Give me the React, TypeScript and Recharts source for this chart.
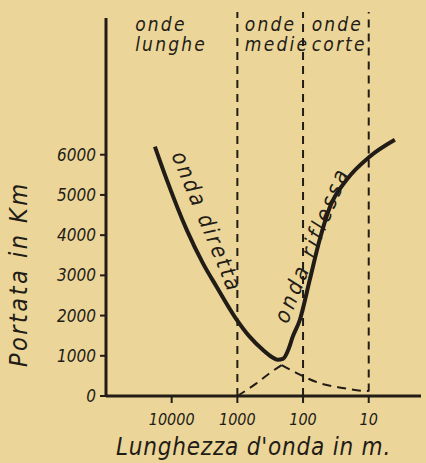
import React from 'react';
import { LineChart, Line, XAxis, YAxis, ReferenceLine, ReferenceDot } from 'recharts';

// Wavelength (m) → range (km); solid envelope (onda diretta + onda riflessa)
const portataSolid = [
  { l: 18000, v: 6200 },
  { l: 11900, v: 5380 },
  { l: 5900, v: 4130 },
  { l: 3370, v: 3310 },
  { l: 2060, v: 2710 },
  { l: 1096, v: 1970 },
  { l: 646, v: 1470 },
  { l: 410, v: 1150 },
  { l: 299, v: 970 },
  { l: 243, v: 900 },
  { l: 200, v: 930 },
  { l: 165, v: 1180 },
  { l: 144, v: 1470 },
  { l: 112, v: 1890 },
  { l: 79, v: 2890 },
  { l: 56, v: 3880 },
  { l: 39, v: 4700 },
  { l: 21.6, v: 5380 },
  { l: 9.7, v: 5950 },
  { l: 4.0, v: 6370 },
];
const direttaDashed = [
  { l: 211, v: 770 },
  { l: 125, v: 570 },
  { l: 56, v: 320 },
  { l: 25, v: 200 },
  { l: 10.7, v: 125 },
  { l: 10, v: 125 },
];
const riflessaDashed = [
  { l: 1000, v: 0 },
  { l: 507, v: 320 },
  { l: 321, v: 570 },
  { l: 211, v: 770 },
];

const xTicks = [10000, 1000, 100, 10];
const yTicks = [0, 1000, 2000, 3000, 4000, 5000, 6000];
const bandBounds = [1000, 100, 10];
const bandBoundBottoms = [0, 0, 110];
const bandTop = 9550;
const bandLabelTop = ['onde', 'onde', 'onde'];
const bandLabelBottom = ['lunghe', 'medie', 'corte'];
const bandLabelX = [36000, 770, 74];
const bandLabelY = 9080;
const curveLabels = ['onda diretta', 'onda riflessa'];
const curveLabelX = [2900, 74];
const curveLabelY = [4330, 3760];
const curveLabelAngle = [67.5, -68];
const curveLabelSpacing = [2.4, 3];

const INK = '#221c17';
const FONT = "'DejaVu Sans Condensed', 'DejaVu Sans', sans-serif";

const rotatedLabel = (text: string, angle: number, size: number, spacing: number) => (props: any) => {
  const vb = props.viewBox || {};
  const x = (vb.x ?? 0) + (vb.width ?? 0) / 2;
  const y = (vb.y ?? 0) + (vb.height ?? 0) / 2;
  return (
    <text
      x={x}
      y={y}
      transform={`rotate(${angle} ${x} ${y})`}
      textAnchor="middle"
      dominantBaseline="central"
      fontFamily={FONT}
      fontStyle="italic"
      fontSize={size}
      fill={INK}
      letterSpacing={spacing}
    >
      {text}
    </text>
  );
};

const headerLabel = (top: string, bottom: string) => (props: any) => {
  const vb = props.viewBox || {};
  const x = (vb.x ?? 0) + (vb.width ?? 0) / 2;
  const y = (vb.y ?? 0) + (vb.height ?? 0) / 2;
  return (
    <text x={x} y={y} fontFamily={FONT} fontStyle="italic" fontSize={19} fill={INK} letterSpacing={2.2}>
      <tspan x={x} y={y}>{top}</tspan>
      <tspan x={x} y={y + 20}>{bottom}</tspan>
    </text>
  );
};

const fmtX = (v: number) => String(v);

export default function App() {
  return (
    <div style={{ position: 'absolute', left: 0, top: 0, width: 426, height: 463, background: '#ecd598' }}>
      <LineChart width={426} height={463} margin={{ top: 18, right: 5, left: 0, bottom: 0 }}>
        <XAxis
          type="number"
          dataKey="l"
          scale="log"
          domain={[1.6, 100000]}
          reversed
          ticks={xTicks}
          tickFormatter={fmtX}
          allowDataOverflow
          height={67}
          tickSize={7}
          tickMargin={11}
          axisLine={{ stroke: INK, strokeWidth: 3 }}
          tickLine={{ stroke: INK, strokeWidth: 2 }}
          tick={{ fill: INK, fontSize: 16, fontStyle: 'italic', fontFamily: FONT }}
          label={{
            value: "Lunghezza d'onda in m.",
            position: 'insideBottom',
            offset: 8,
            dx: -10,
            fill: INK,
            fontSize: 24,
            fontStyle: 'italic',
            fontFamily: FONT,
            letterSpacing: 0.8,
          }}
        />
        <YAxis
          type="number"
          dataKey="v"
          domain={[0, 9400]}
          ticks={yTicks}
          width={106}
          tickSize={6}
          tickMargin={4}
          axisLine={{ stroke: INK, strokeWidth: 3 }}
          tickLine={{ stroke: INK, strokeWidth: 2 }}
          tick={{ fill: INK, fontSize: 17, fontStyle: 'italic', fontFamily: FONT }}
          label={{
            value: 'Portata in Km',
            angle: -90,
            position: 'insideLeft',
            offset: 18,
            dy: 160,
            fill: INK,
            fontSize: 25,
            fontStyle: 'italic',
            fontFamily: FONT,
            letterSpacing: 2.5,
          }}
        />
        {bandBounds.map((b, i) => (
          <ReferenceLine
            key={b}
            segment={[{ x: b, y: bandBoundBottoms[i] }, { x: b, y: bandTop }]}
            stroke={INK}
            strokeWidth={2}
            strokeDasharray="8 6"
            ifOverflow="visible"
          />
        ))}
        <Line data={riflessaDashed} dataKey="v" type="monotone" stroke={INK} strokeWidth={2} strokeDasharray="9 6" dot={false} isAnimationActive={false} />
        <Line data={direttaDashed} dataKey="v" type="monotone" stroke={INK} strokeWidth={2} strokeDasharray="9 6" dot={false} isAnimationActive={false} />
        <Line data={portataSolid} dataKey="v" type="monotone" stroke={INK} strokeWidth={4} dot={false} isAnimationActive={false} />
        {bandLabelX.map((x, i) => (
          <ReferenceDot
            key={'h' + i}
            x={x}
            y={bandLabelY}
            r={1}
            fill="none"
            stroke="none"
            ifOverflow="visible"
            label={{ content: headerLabel(bandLabelTop[i], bandLabelBottom[i]) }}
          />
        ))}
        {curveLabels.map((t, i) => (
          <ReferenceDot
            key={'c' + i}
            x={curveLabelX[i]}
            y={curveLabelY[i]}
            r={1}
            fill="none"
            stroke="none"
            ifOverflow="visible"
            label={{ content: rotatedLabel(t, curveLabelAngle[i], 22, curveLabelSpacing[i]) }}
          />
        ))}
      </LineChart>
    </div>
  );
}
